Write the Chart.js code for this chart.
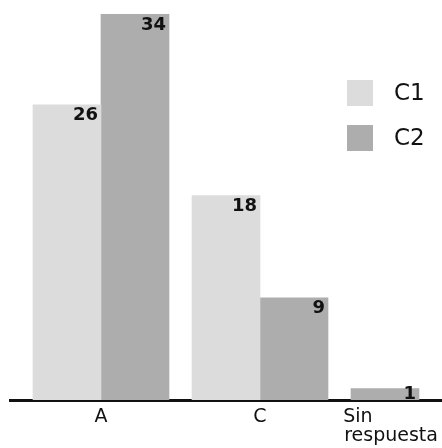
<!DOCTYPE html>
<html>
<head>
<meta charset="utf-8">
<script src="https://cdn.jsdelivr.net/npm/chart.js@4"></script>
<style>
  html, body { margin: 0; padding: 0; background: #fff; }
  #wrap { width: 442px; height: 448px; }
</style>
</head>
<body>
<div id="wrap"><canvas id="grafico"></canvas></div>
<script>
// Datos del gráfico
const categorias = ['A', 'C', ['  Sin           ', '  respuesta']];
const serieC1 = [26, 18, null];
const serieC2 = [34, 9, 1];
const nombresSeries = ['C1', 'C2'];
const maxY = 34;

const colores = ['#dcdcdc', '#adadad'];
const fuente = 'DejaVu Sans';

// Los grupos se colocan uno tras otro según cuántas barras tienen
const hueco = 0.338;
const centros = [];
let pos = 0;
categorias.forEach((c, i) => {
    const n = [serieC1[i], serieC2[i]].filter(v => v !== null).length;
    centros.push(pos + n / 2);
    pos += n + hueco;
});

const series = [serieC1, serieC2];

// Etiquetas de valor arriba a la derecha dentro de cada barra
const etiquetasValor = {
    id: 'etiquetasValor',
    afterDatasetsDraw(chart) {
        const ctx = chart.ctx;
        ctx.save();
        ctx.font = 'bold 18px "' + fuente + '"';
        ctx.fillStyle = '#111';
        ctx.textAlign = 'right';
        ctx.textBaseline = 'top';
        chart.data.datasets.forEach((ds, d) => {
            chart.getDatasetMeta(d).data.forEach((bar, i) => {
                const v = series[d][i];
                if (v === null) return;
                // la barra pequeña no tiene sitio: la etiqueta sube un poco
                const dy = bar.base - bar.y < 20 ? -3 : 2;
                ctx.fillText(String(v), bar.x + bar.width / 2 - 3, bar.y + dy);
            });
        });
        ctx.restore();
    }
};

// Leyenda a la derecha
const leyenda = {
    id: 'leyenda',
    afterDraw(chart) {
        const ctx = chart.ctx;
        ctx.save();
        ctx.font = '23px "' + fuente + '"';
        ctx.textBaseline = 'middle';
        chart.data.datasets.forEach((ds, d) => {
            const y = 80 + d * 45;
            ctx.fillStyle = ds.backgroundColor;
            ctx.fillRect(347, y, 26, 26);
            ctx.fillStyle = '#111';
            ctx.fillText(ds.label, 394, y + 14);
        });
        ctx.restore();
    }
};

new Chart(document.getElementById('grafico'), {
    type: 'bar',
    data: {
        datasets: series.map((s, d) => ({
            label: nombresSeries[d],
            data: s.map((v, i) => ({ x: centros[i], y: v })),
            backgroundColor: colores[d],
            barThickness: 68
        }))
    },
    options: {
        responsive: true,
        maintainAspectRatio: false,
        animation: false,
        skipNull: true,
        layout: { padding: { top: 14, left: 10, right: 0, bottom: 0 } },
        plugins: { legend: { display: false }, tooltip: { enabled: false } },
        scales: {
            x: {
                type: 'linear',
                offset: false,
                min: -hueco,
                max: pos,
                grid: { display: false },
                border: { display: true, color: '#111', width: 3 },
                afterBuildTicks: (scale) => { scale.ticks = centros.map(v => ({ value: v })); },
                afterFit: (scale) => { scale.height = 48; },
                ticks: {
                    autoSkip: false,
                    maxRotation: 0,
                    padding: 0,
                    color: '#111',
                    font: { family: fuente, size: 19, lineHeight: 1.0 },
                    callback: (value, index) => categorias[index]
                }
            },
            y: {
                display: false,
                min: 0,
                max: maxY
            }
        }
    },
    plugins: [etiquetasValor, leyenda]
});
</script>
</body>
</html>
